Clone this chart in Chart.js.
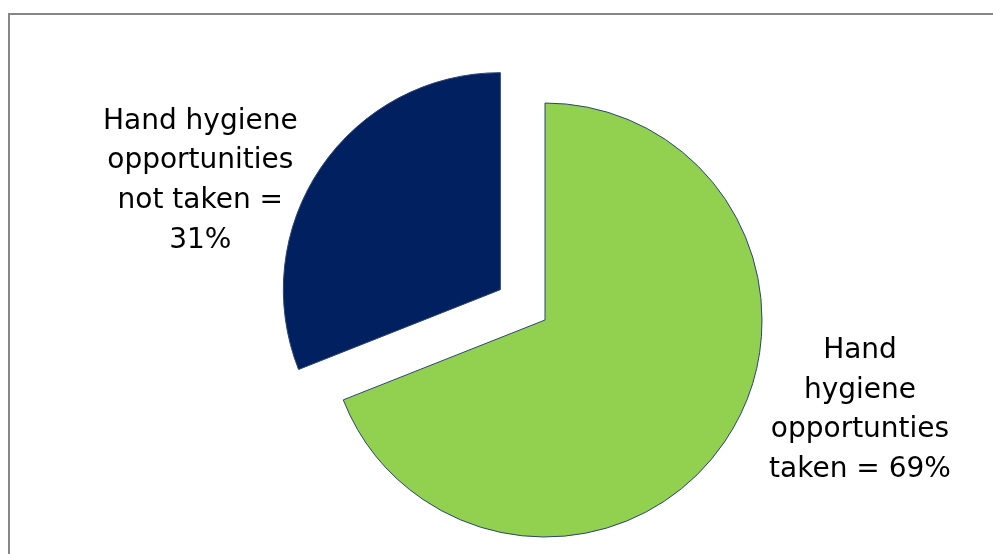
<!DOCTYPE html>
<html>
<head>
<meta charset="utf-8">
<script src="https://cdn.jsdelivr.net/npm/chart.js@4/dist/chart.umd.min.js"></script>
<style>
  html, body { margin: 0; padding: 0; background: #fff; }
  #wrap { position: relative; width: 993px; height: 554px; }
</style>
</head>
<body>
<div id="wrap"><canvas id="pie"></canvas></div>
<script>
// values
const categories = ['Hand hygiene opportunties taken', 'Hand hygiene opportunities not taken']
const shares = [69, 31]
const colors = ['#92d050', '#002060']
// label text, one entry per line
const labelLines = [
    ['Hand', 'hygiene', 'opportunties', 'taken = 69%'],
    ['Hand hygiene', 'opportunities', 'not taken =', '31%']
]
// where each label sits, relative to its slice centre (first baseline)
const labelOffsets = [[315, 38], [-300, -161]]
const explode = [0, 54]

// pulls a slice away from the centre without growing its radius
const explodePlugin = {
    id: 'explode',
    afterDatasetsUpdate(chart) {
        const meta = chart.getDatasetMeta(0)
        meta.data.forEach((arc, i) => {
            if (!explode[i]) return
            const mid = (arc.startAngle + arc.endAngle) / 2
            arc.x += Math.cos(mid) * explode[i]
            arc.y += Math.sin(mid) * explode[i]
        })
    }
}

// grey frame and the slice labels
const framePlugin = {
    id: 'frame',
    beforeDraw(chart) {
        const ctx = chart.ctx
        ctx.save()
        ctx.strokeStyle = '#878787'
        ctx.lineWidth = 2
        ctx.beginPath()
        ctx.moveTo(9, chart.height + 5)
        ctx.lineTo(9, 14)
        ctx.lineTo(chart.width + 5, 14)
        ctx.stroke()
        ctx.restore()
    },
    afterDatasetsDraw(chart) {
        const ctx = chart.ctx
        const meta = chart.getDatasetMeta(0)
        ctx.save()
        ctx.fillStyle = '#000'
        ctx.font = '28px "DejaVu Sans"'
        ctx.textAlign = 'center'
        ctx.textBaseline = 'alphabetic'
        meta.data.forEach((arc, i) => {
            const x = arc.x + labelOffsets[i][0]
            let y = arc.y + labelOffsets[i][1]
            labelLines[i].forEach(line => {
                ctx.fillText(line, x, y)
                y += 39.7
            })
        })
        ctx.restore()
    }
}

new Chart(document.getElementById('pie'), {
    type: 'pie',
    data: {
        labels: categories,
        datasets: [{
            data: shares,
            backgroundColor: colors,
            borderColor: '#2b4472',
            borderWidth: 1
        }]
    },
    options: {
        responsive: true,
        maintainAspectRatio: false,
        animation: false,
        radius: 217,
        layout: { padding: { left: 97, right: 0, top: 86, bottom: 0 } },
        plugins: {
            legend: { display: false },
            tooltip: { enabled: false }
        }
    },
    plugins: [explodePlugin, framePlugin]
})
</script>
</body>
</html>
